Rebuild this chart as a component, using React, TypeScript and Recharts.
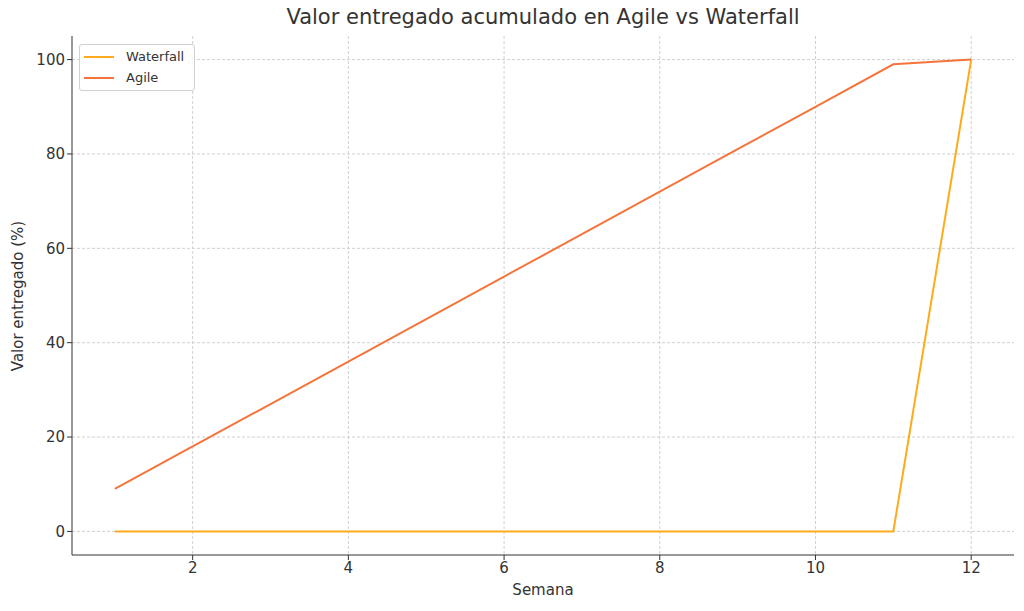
import { CartesianGrid, Line, LineChart, XAxis, YAxis } from "recharts";

const WEEKS = [1, 2, 3, 4, 5, 6, 7, 8, 9, 10, 11, 12];
const WATERFALL = [0, 0, 0, 0, 0, 0, 0, 0, 0, 0, 0, 100];
const AGILE = [9, 18, 27, 36, 45, 54, 63, 72, 81, 90, 99, 100];
const X_TICKS = [2, 4, 6, 8, 10, 12];
const Y_TICKS = [0, 20, 40, 60, 80, 100];

const SERIES = [
  { key: "waterfall", name: "Waterfall", colour: "#ffaa1a" },
  { key: "agile", name: "Agile", colour: "#f4743b" },
];

const FONT = "'DejaVu Sans', sans-serif";
const INK = "#333333";

const chartData = WEEKS.map((week, i) => ({
  week,
  waterfall: WATERFALL[i],
  agile: AGILE[i],
}));

// Legend is drawn outside Recharts so it doesn't steal plot space.
function LegendBox() {
  return (
    <div
      style={{
        position: "absolute",
        left: 79,
        top: 44,
        boxSizing: "border-box",
        width: 116,
        height: 47,
        border: "1px solid #d0d0d0",
        borderRadius: 3,
        background: "rgba(255,255,255,0.85)",
        padding: "1px 0 0 4px",
        fontFamily: FONT,
        fontSize: 13,
        color: INK,
      }}
    >
      {SERIES.map((s) => (
        <div key={s.key} style={{ display: "flex", alignItems: "center", height: 21 }}>
          <span
            style={{
              display: "inline-block",
              width: 30,
              height: 2,
              background: s.colour,
              marginRight: 12,
            }}
          />
          <span>{s.name}</span>
        </div>
      ))}
    </div>
  );
}

export default function App() {
  return (
    <div style={{ position: "absolute", left: 0, top: 0, width: 1024, height: 611, background: "#fff" }}>
      <LineChart
        width={1024}
        height={611}
        data={chartData}
        margin={{ top: 36, right: 10, bottom: 0, left: 0 }}
        style={{ position: "absolute", left: 0, top: 0 }}
      >
        <CartesianGrid
          stroke="#d0d0d0"
          strokeDasharray="3 2"
          horizontalValues={Y_TICKS}
          verticalValues={X_TICKS}
        />
        <XAxis
          dataKey="week"
          type="number"
          domain={[0.45, 12.55]}
          ticks={X_TICKS}
          allowDataOverflow
          height={56}
          stroke={INK}
          tickSize={5}
          tick={{ fill: INK, fontSize: 15, fontFamily: FONT }}
        />
        <YAxis
          type="number"
          domain={[-5, 105]}
          ticks={Y_TICKS}
          allowDataOverflow
          width={72}
          stroke={INK}
          tickSize={5}
          tick={{ fill: INK, fontSize: 15, fontFamily: FONT }}
        />
        {SERIES.map((s) => (
          <Line
            key={s.key}
            dataKey={s.key}
            name={s.name}
            stroke={s.colour}
            strokeWidth={2}
            dot={false}
            isAnimationActive={false}
          />
        ))}
      </LineChart>
      <div
        style={{
          position: "absolute",
          left: 72,
          width: 942,
          top: 5,
          textAlign: "center",
          fontFamily: FONT,
          fontSize: 21,
          color: INK,
        }}
      >
        Valor entregado acumulado en Agile vs Waterfall
      </div>
      <div
        style={{
          position: "absolute",
          left: 72,
          width: 942,
          top: 581,
          textAlign: "center",
          fontFamily: FONT,
          fontSize: 15,
          color: INK,
        }}
      >
        Semana
      </div>
      <div
        style={{
          position: "absolute",
          left: 18,
          top: 296,
          transform: "translate(-50%, -50%) rotate(-90deg)",
          whiteSpace: "nowrap",
          fontFamily: FONT,
          fontSize: 15,
          color: INK,
        }}
      >
        Valor entregado (%)
      </div>
      <LegendBox />
    </div>
  );
}
